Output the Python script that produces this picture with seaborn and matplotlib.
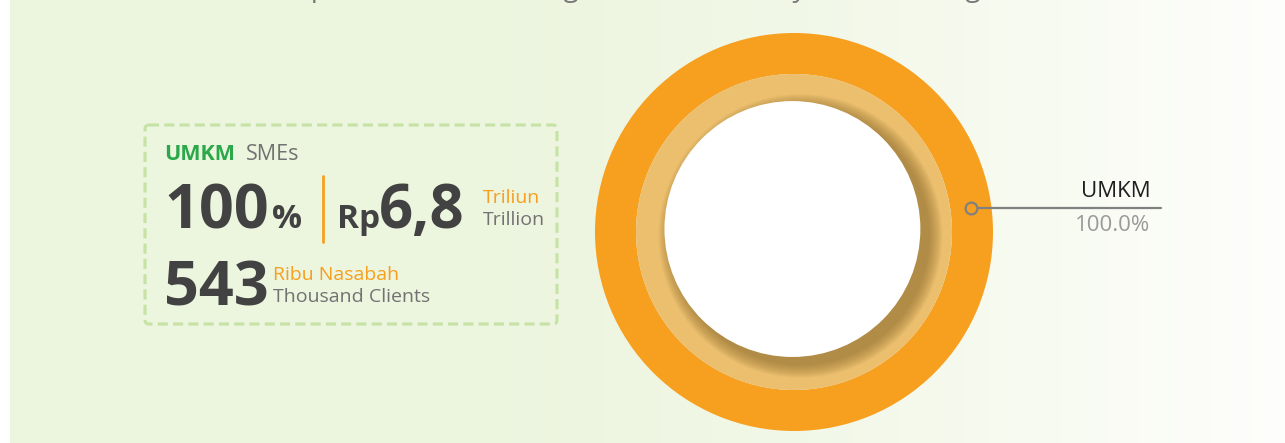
"""
UMKM share donut - recreated with seaborn/matplotlib
"""
import numpy as np
import matplotlib.pyplot as plt
import seaborn as sns
from matplotlib.patches import FancyBboxPatch, Circle

# --- data ---
segments = ["UMKM"]
shares = [100.0]
share_pct = "100"
financing_value = "6,8"
clients_value = "543"
title_text = "Composition of Financing Disbursement by Business Segment"

# --- style ---
sns.set_theme(style="white")
plt.rcParams['font.family'] = ['Open Sans', 'DejaVu Sans']

ORANGE = "#f79f1f"
LIGHT_ORANGE = "#ebbf6e"
GREEN = "#2aa84a"
DARK = "#424242"
GRAY = "#727272"

W, H = 1285, 443
fig = plt.figure(figsize=(W / 100, H / 100), dpi=100)

# background gradient (green -> near white), thin white strip on the left
bg = fig.add_axes([0, 0, 1, 1], zorder=0)
xs = np.arange(W)
t = np.clip((xs - 450) / (W - 450), 0, 1) ** 1.3
left = np.array([236, 245, 222]) / 255
right = np.array([254, 254, 252]) / 255
row = left[None, :] * (1 - t[:, None]) + right[None, :] * t[:, None]
row[xs < 10] = 1.0
bg.imshow(row[None, :, :], aspect='auto', extent=[0, W, H, 0])
bg.set_xlim(0, W)
bg.set_ylim(H, 0)
bg.axis('off')

# overlay for text (pixel coordinates, y downwards)
ov = fig.add_axes([0, 0, 1, 1], zorder=1)
ov.set_xlim(0, W)
ov.set_ylim(H, 0)
ov.axis('off')
ov.patch.set_alpha(0)

# title, mostly cut off at the top edge
ov.text(650, -4, title_text, ha='center', va='baseline', fontsize=20,
        color='#7a7a7a', clip_on=False)

# dashed info box
box = FancyBboxPatch((145, 125), 412, 199, boxstyle="round,pad=0,rounding_size=4",
                     fill=False, ec='#c6e2a5', lw=2.2, ls=(0, (3.3, 1.7)))
ov.add_patch(box)

ov.text(164, 160, segments[0], fontsize=15.5, fontweight='bold', color=GREEN, va='baseline')
ov.text(246, 160, "SMEs", fontsize=15.5, color=GRAY, va='baseline')

ov.text(164, 228, share_pct, fontsize=44, fontweight='bold', color=DARK, va='baseline')
ov.text(272, 228, "%", fontsize=24, fontweight='bold', color=DARK, va='baseline')
ov.plot([323, 323], [176, 242], color=ORANGE, lw=2)
ov.text(337, 228, "Rp", fontsize=24, fontweight='bold', color=DARK, va='baseline')
ov.text(379, 228, financing_value, fontsize=43, fontweight='bold', color=DARK, va='baseline')
ov.text(483, 203, "Triliun", fontsize=14, color=ORANGE, va='baseline')
ov.text(483, 225, "Trillion", fontsize=14, color=GRAY, va='baseline')

ov.text(164, 306, clients_value, fontsize=44, fontweight='bold', color=DARK, va='baseline')
ov.text(273, 280, "Ribu Nasabah", fontsize=14, color=ORANGE, va='baseline')
ov.text(273, 302, "Thousand Clients", fontsize=14, color=GRAY, va='baseline')

# donut
ax = fig.add_axes([595 / W, 12 / H, 398 / W, 398 / H], zorder=2)
ax.pie(shares, radius=1.0, colors=[ORANGE], startangle=90, counterclock=False,
       wedgeprops=dict(width=0.206, linewidth=0))
ax.pie(shares, radius=0.794, colors=[LIGHT_ORANGE], startangle=90, counterclock=False,
       wedgeprops=dict(linewidth=0))

# soft shadow under the white centre (bottom-right)
inner_c = (-0.008, 0.015)
inner_r = 0.643
n = 14
for i in range(n, 0, -1):
    r = inner_r + 0.005 * i
    ax.add_patch(Circle((inner_c[0] + 0.04, inner_c[1] - 0.035), r,
                        color='#8a6a2c', alpha=0.055, lw=0))
ax.add_patch(Circle(inner_c, inner_r, color='white', lw=0))

# leader line and labels
ax.plot([0.888, 1.843], [0.119, 0.119], color='#808080', lw=1.6, clip_on=False)
ax.plot([0.888], [0.119], 'o', ms=8.5, mfc=ORANGE, mec='#808080', mew=1.6, clip_on=False)
ax.text(1.79, 0.206, segments[0], ha='right', va='center', fontsize=16, color='#1e1e1e')
ax.text(1.79, 0.035, f"{shares[0]:.1f}%", ha='right', va='center', fontsize=16, color='#9a9a9a')

ax.set_xlim(-1, 1)
ax.set_ylim(-1, 1)
ax.set_aspect('equal')
ax.axis('off')

fig.savefig('out.png', dpi=100)
